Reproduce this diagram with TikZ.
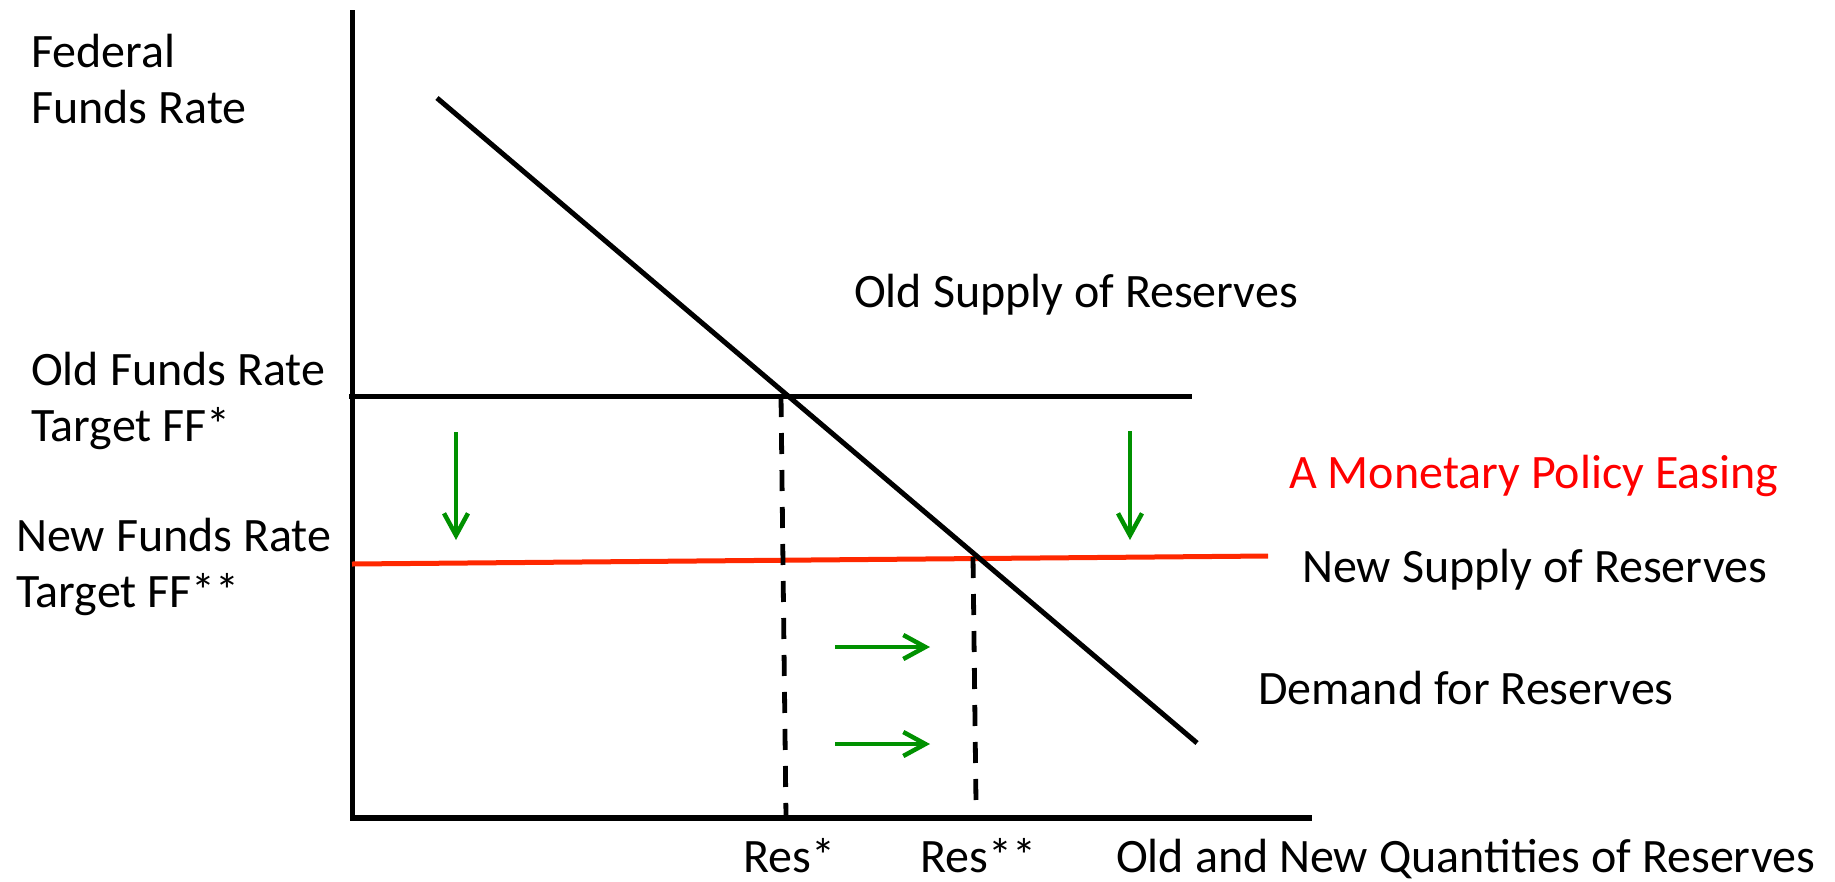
\documentclass[tikz,border=0pt]{standalone}
\usepackage{fontspec}
\setmainfont{Carlito}
\usetikzlibrary{arrows.meta}
\definecolor{arrowgreen}{RGB}{0,145,0}
\definecolor{newline}{RGB}{255,40,0}
\definecolor{easered}{RGB}{255,0,0}
\begin{document}
\begin{tikzpicture}[x=1pt,y=-1pt,
  lbl/.style={anchor=base west,inner sep=0pt,font=\fontsize{48pt}{57pt}\selectfont},
  axisline/.style={line width=5.5pt,line join=miter},
  curve/.style={line width=5pt},
  guide/.style={line width=4.8pt,dash pattern=on 21pt off 16pt},
  movearrow/.style={line width=4.5pt,draw=arrowgreen,-{Straight Barb[length=22pt,width=24pt,line width=4.5pt]}}]
\useasboundingbox (0,0) rectangle (1835,881);
% coordinates
\coordinate (ytop) at (352.5,10);
\coordinate (origin) at (352.5,818);
\coordinate (xend) at (1312,818);
\coordinate (d1) at (437,98);
\coordinate (d2) at (1197,743);
\coordinate (s1) at (349,396);
\coordinate (s2) at (1192,396);
\coordinate (n1) at (352,564);
\coordinate (n2) at (1268,556);
\coordinate (r1t) at (781,396);
\coordinate (r1b) at (786,818);
\coordinate (r2t) at (973,557);
\coordinate (r2b) at (976,803);
\coordinate (da1) at (456,432);
\coordinate (da2) at (456,540);
\coordinate (db1) at (1130,431);
\coordinate (db2) at (1130,540);
\coordinate (ra1) at (835,647);
\coordinate (ra2) at (930,647);
\coordinate (rb1) at (835,744);
\coordinate (rb2) at (930,744);
% axes
\draw[axisline] (ytop) -- (origin) -- (xend);
% old supply
\draw[curve] (s1) -- (s2);
% new supply
\draw[curve,draw=newline] (n1) -- (n2);
% demand
\draw[curve] (d1) -- (d2);
% dashed guides
\draw[guide] (r1t) -- (r1b);
\draw[guide] (r2t) -- (r2b);
% green arrows
\draw[movearrow] (da1) -- (da2);
\draw[movearrow] (db1) -- (db2);
\draw[movearrow] (ra1) -- (ra2);
\draw[movearrow] (rb1) -- (rb2);
% labels
\node[lbl] (fedA) at (31,67) {Federal};
\node[lbl] (fedB) at (31,123) {Funds Rate};
\node[lbl] (oldA) at (31,385) {Old Funds Rate};
\node[lbl] (oldB) at (31,441) {Target FF*};
\node[lbl] (newA) at (16,551) {New Funds Rate};
\node[lbl] (newB) at (16,607) {Target FF**};
\node[lbl] (oldsup) at (854,307) {Old Supply of Reserves};
\node[lbl,text=easered] (easing) at (1289,488) {A Monetary Policy Easing};
\node[lbl] (newsup) at (1302,582) {New Supply of Reserves};
\node[lbl] (demand) at (1258,704) {Demand for Reserves};
\node[lbl] (res1) at (743,872) {Res*};
\node[lbl] (res2) at (920,872) {Res**};
\node[lbl] (qty) at (1116,872) {Old and New Quantities of Reserves};
\end{tikzpicture}
\end{document}
